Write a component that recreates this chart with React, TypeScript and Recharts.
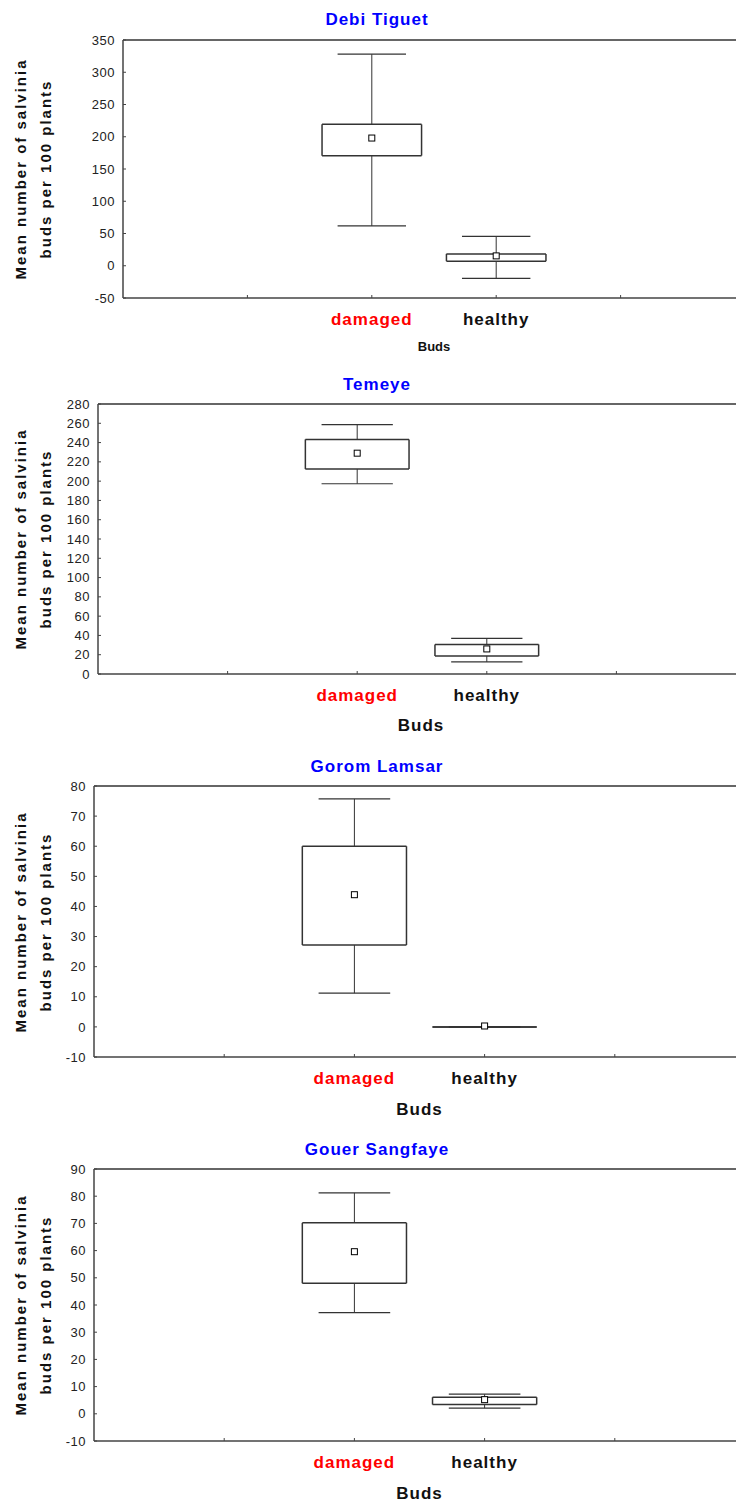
import React from "react";
import { ComposedChart, XAxis, YAxis, Scatter, ReferenceLine } from "recharts";

// values
const sites = ["Debi Tiguet", "Temeye", "Gorom Lamsar", "Gouer Sangfaye"];
const budTypes = ["damaged", "healthy"];
const means = [[198, 15.3], [229, 26], [43.9, 0.3], [59.6, 5.2]];
const boxLows = [[170.7, 7.1], [212.5, 18.7], [27.2, 0], [48, 3.4]];
const boxHighs = [[219.2, 18.4], [243.3, 30.7], [60, 0], [70.2, 6.1]];
const whiskerLows = [[61.8, -19.7], [197.3, 12.5], [11.2, 0], [37.2, 2.1]];
const whiskerHighs = [[328, 45.4], [258.6, 37], [75.7, 0], [81.2, 7.2]];
const yTicks = [
  [-50, 0, 50, 100, 150, 200, 250, 300, 350],
  [0, 20, 40, 60, 80, 100, 120, 140, 160, 180, 200, 220, 240, 260, 280],
  [-10, 0, 10, 20, 30, 40, 50, 60, 70, 80],
  [-10, 0, 10, 20, 30, 40, 50, 60, 70, 80, 90],
];
const xTicks = [1, 2, 3, 4];
const yLabel = ["Mean number of salvinia", "buds per 100 plants"];
const xLabel = "Buds";

const FONT = "'Liberation Sans', Arial, sans-serif";
const AXIS = "#444";
const LINE = "#333";

const layouts = [
  { top: 0, marginTop: 40, plotH: 258, plotLeft: 123, plotW: 622, titleBase: 25, budsBase: 351, budsX: 434, budsSize: 13 },
  { top: 360, marginTop: 44, plotH: 270, plotLeft: 98, plotW: 648, titleBase: 390, budsBase: 731.5, budsX: 421, budsSize: 17 },
  { top: 740, marginTop: 46, plotH: 271, plotLeft: 94, plotW: 651, titleBase: 772, budsBase: 1115.5, budsX: 419.5, budsSize: 17 },
  { top: 1120, marginTop: 49, plotH: 272, plotLeft: 94, plotW: 651, titleBase: 1155, budsBase: 1499, budsX: 419.5, budsSize: 17 },
];

const BudTick = (props: any) => {
  const { x, y, payload } = props;
  const idx = payload.value - 2;
  if (idx < 0 || idx >= budTypes.length) return null;
  return (
    <text x={x} y={y + 27} textAnchor="middle" fontFamily={FONT} fontWeight="bold" fontSize={17}
      letterSpacing={1} fill={idx === 0 ? "#ff0000" : "#111"}>
      {budTypes[idx]}
    </text>
  );
};

const MeanSquare = (props: any) => (
  <rect x={props.cx - 3} y={props.cy - 3} width={6} height={6} fill="#fff" stroke="#000" strokeWidth={1} />
);

function seg(x1: number, y1: number, x2: number, y2: number, key: string, w = 1.2) {
  return (
    <ReferenceLine key={key} segment={[{ x: x1, y: y1 }, { x: x2, y: y2 }]} stroke={LINE} strokeWidth={w} ifOverflow="visible" />
  );
}

function Panel({ p }: { p: number }) {
  const lay = layouts[p];
  const ticks = yTicks[p];
  const data = budTypes.map((b, i) => ({ x: i + 2, mean: means[p][i] }));
  const width = lay.plotLeft + lay.plotW;
  const height = lay.marginTop + lay.plotH + 62;
  const half = 0.4;
  const cap = 0.275;
  const marks: React.ReactNode[] = [];
  budTypes.forEach((b, i) => {
    const x = i + 2;
    const q1 = boxLows[p][i];
    const q3 = boxHighs[p][i];
    const lo = whiskerLows[p][i];
    const hi = whiskerHighs[p][i];
    marks.push(seg(x, q3, x, hi, `wu${i}`, 1));
    marks.push(seg(x, lo, x, q1, `wl${i}`, 1));
    marks.push(seg(x - cap, hi, x + cap, hi, `cu${i}`));
    marks.push(seg(x - cap, lo, x + cap, lo, `cl${i}`));
    marks.push(seg(x - half, q3, x + half, q3, `bt${i}`, 1.5));
    marks.push(seg(x - half, q1, x + half, q1, `bb${i}`, 1.5));
    marks.push(seg(x - half, q1, x - half, q3, `bl${i}`, 1.5));
    marks.push(seg(x + half, q1, x + half, q3, `br${i}`, 1.5));
  });
  const centerY = lay.top + lay.marginTop + lay.plotH / 2;
  return (
    <>
      <div style={{ position: "absolute", left: 0, top: lay.top }}>
        <ComposedChart width={width} height={height} data={data}
          margin={{ top: lay.marginTop, right: 0, bottom: 0, left: 0 }}>
          <XAxis type="number" dataKey="x" domain={[0, 5]} ticks={xTicks} allowDataOverflow
            height={62} tickSize={-3} tickMargin={3} tick={<BudTick />} interval={0}
            axisLine={{ stroke: AXIS, strokeWidth: 1.5 }} tickLine={{ stroke: AXIS }} />
          <YAxis type="number" domain={[ticks[0], ticks[ticks.length - 1]]} ticks={ticks} allowDataOverflow
            width={lay.plotLeft} tickSize={-3} tickMargin={11} interval={0}
            tick={{ fill: "#222", fontSize: 13, fontFamily: FONT, letterSpacing: 0.5 }}
            axisLine={{ stroke: AXIS, strokeWidth: 1.5 }} tickLine={{ stroke: AXIS }} />
          <ReferenceLine y={ticks[ticks.length - 1]} stroke="#666" strokeWidth={2} ifOverflow="visible" />
          {marks}
          <Scatter dataKey="mean" shape={<MeanSquare />} isAnimationActive={false} />
        </ComposedChart>
      </div>
      <div style={{ position: "absolute", left: 227, width: 300, top: lay.titleBase - 0.8465 * 17, fontSize: 17,
        lineHeight: 1, textAlign: "center", fontFamily: FONT, fontWeight: "bold", color: "#0000ff", letterSpacing: 1 }}>
        {sites[p]}
      </div>
      <div style={{ position: "absolute", left: lay.budsX - 60, width: 120, top: lay.budsBase - 0.8465 * lay.budsSize,
        fontSize: lay.budsSize, lineHeight: 1, textAlign: "center", fontFamily: FONT, fontWeight: "bold",
        color: "#111", letterSpacing: lay.budsSize > 14 ? 1 : 0 }}>
        {xLabel}
      </div>
      <div style={{ position: "absolute", left: 32.75 - 140, top: centerY - 25, width: 280, height: 50,
        transform: "rotate(-90deg)", textAlign: "center", fontFamily: FONT, fontWeight: "bold", fontSize: 15,
        lineHeight: "25px", letterSpacing: 2, color: "#111" }}>
        <div>{yLabel[0]}</div>
        <div>{yLabel[1]}</div>
      </div>
    </>
  );
}

export default function App() {
  return (
    <div style={{ position: "absolute", left: 0, top: 0, width: 736, height: 1504, overflow: "hidden", background: "#fff" }}>
      {sites.map((s, p) => (
        <Panel key={s} p={p} />
      ))}
    </div>
  );
}
